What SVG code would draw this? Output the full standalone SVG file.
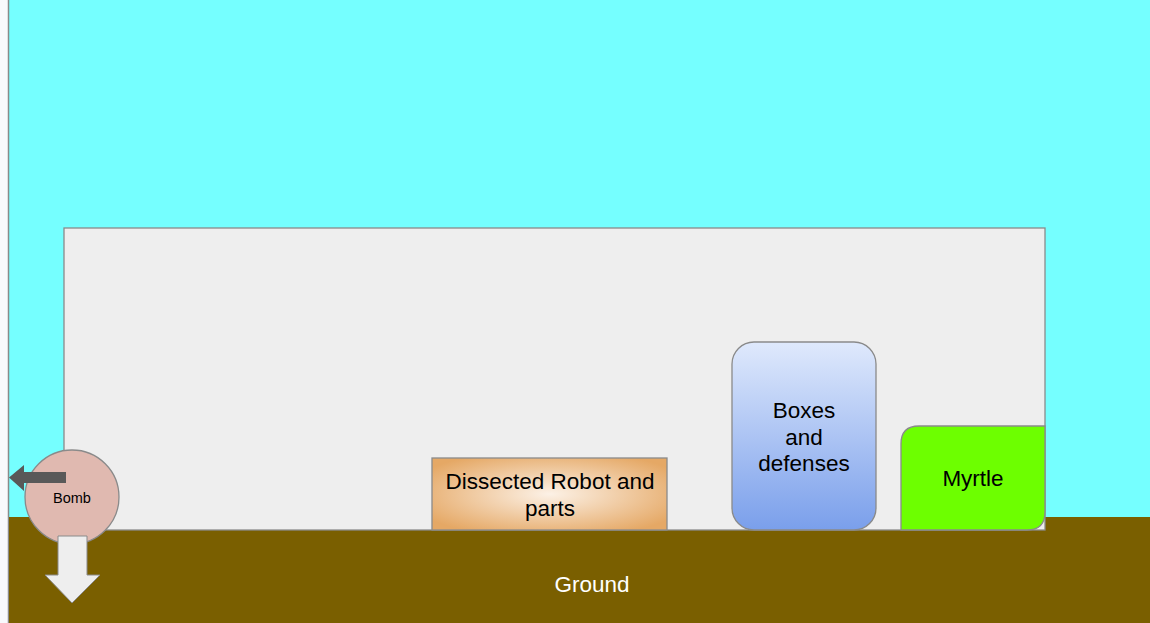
<svg xmlns="http://www.w3.org/2000/svg" width="1150" height="623" viewBox="0 0 1150 623">
<style>
text{font-family:"Liberation Sans",Arial,sans-serif;text-anchor:middle;fill:#000}
.lbl{font-size:22.5px}
.edge{stroke:#8a8a8a;stroke-width:1.3}
</style>
<defs>
<radialGradient id="robo" cx="0.5" cy="0.5" r="0.62">
<stop offset="0" stop-color="#fcf1e6"/>
<stop offset="1" stop-color="#e5a865"/>
</radialGradient>
<linearGradient id="box" x1="0" y1="0" x2="0" y2="1">
<stop offset="0" stop-color="#dfe9fc"/>
<stop offset="1" stop-color="#7a9feb"/>
</linearGradient>
</defs>
<rect x="0" y="0" width="1150" height="623" fill="#f8f9fc"/>
<g id="sky"><rect x="9" y="0" width="1141" height="623" fill="#75ffff"/><line x1="8.5" y1="0" x2="8.5" y2="623" stroke="#8a8a8a" stroke-width="1.5"/></g>
<g id="ground"><rect x="9" y="517" width="1141" height="106" fill="#7a5f00"/><text x="592" y="592" class="lbl" style="fill:#fff">Ground</text></g>
<g id="room"><rect x="64" y="228" width="981" height="302" fill="#eeeeee" class="edge"/></g>
<g id="robot"><rect x="432" y="458" width="235" height="72" fill="url(#robo)" class="edge"/>
<text x="550" y="489" class="lbl">Dissected Robot and</text><text x="550" y="516" class="lbl">parts</text></g>
<g id="boxes"><rect x="732" y="342" width="144" height="188" rx="22" fill="url(#box)" class="edge"/>
<text x="804" y="418" class="lbl">Boxes</text><text x="804" y="445" class="lbl">and</text><text x="804" y="471" class="lbl">defenses</text></g>
<g id="myrtle"><path d="M901 530 V444 Q901 426 919 426 H1045 V512 Q1045 530 1027 530 Z" fill="#6dff00" class="edge"/>
<text x="973" y="486" class="lbl">Myrtle</text></g>
<g id="bomb"><ellipse cx="72" cy="497" rx="47" ry="47" fill="#e0b9b0" class="edge"/>
<text x="72" y="503" style="font-size:14.5px">Bomb</text></g>
<g id="connectors">
<path d="M66 472 H24 V465 L9 477.5 L24 491 V483 H66 Z" fill="#595959"/>
<path d="M58 536 H87 V575 H100 L72 603 L45 575 H58 Z" fill="#eeeeee" stroke="#8a8a8a" stroke-width="1"/>
</g>
</svg>
